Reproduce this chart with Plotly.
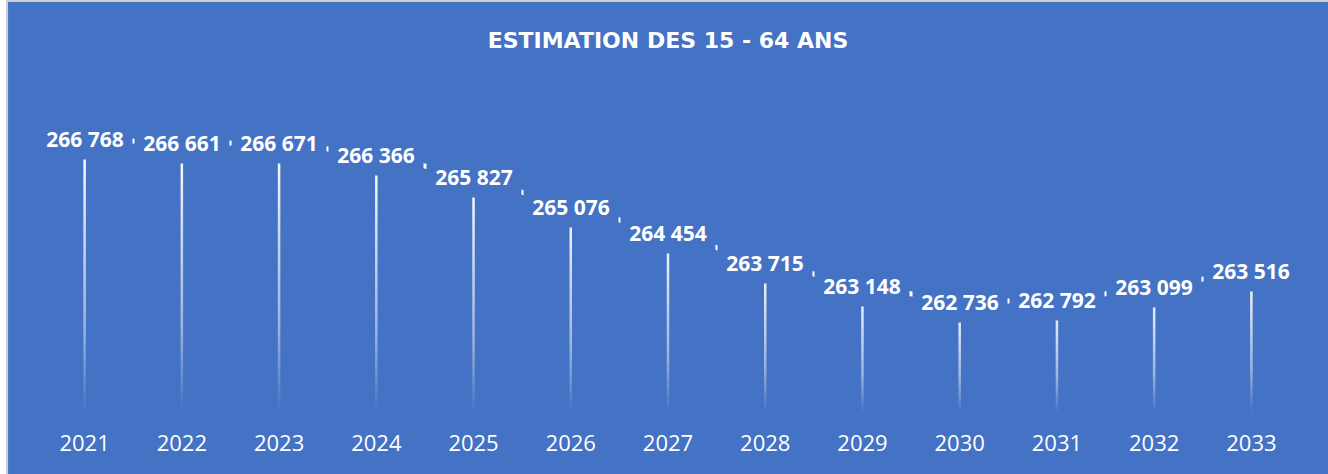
import plotly.graph_objects as go

# Données : estimation des 15 - 64 ans
annees = ["2021", "2022", "2023", "2024", "2025", "2026", "2027",
          "2028", "2029", "2030", "2031", "2032", "2033"]
effectifs = [266768, 266661, 266671, 266366, 265827, 265076, 264454,
             263715, 263148, 262736, 262792, 263099, 263516]

BLEU = "#4472C4"
Y_MIN, Y_MAX = 260000, 268000

xs = list(range(len(annees)))
etiquettes = [f"{v:,}".replace(",", " ") for v in effectifs]

fig = go.Figure()

# ligne épaisse reliant les points (visible seulement entre les étiquettes)
fig.add_trace(go.Scatter(
    x=xs, y=effectifs, mode="lines",
    line=dict(color="white", width=5),
    hoverinfo="skip", showlegend=False,
))

# tiges verticales en dégradé
w = 0.013
for x, v in zip(xs, effectifs):
    fig.add_trace(go.Scatter(
        x=[x - w, x + w, x + w, x - w, x - w],
        y=[Y_MIN, Y_MIN, v, v, Y_MIN],
        mode="lines", line=dict(width=0),
        fill="toself",
        fillgradient=dict(
            type="vertical",
            colorscale=[[0, "rgba(255,255,255,0)"],
                        [0.3, "rgba(255,255,255,0.45)"],
                        [1, "rgba(255,255,255,1)"]],
        ),
        hoverinfo="skip", showlegend=False,
    ))

# étiquettes de données, fond bleu pour masquer la ligne
for x, v, t in zip(xs, effectifs, etiquettes):
    fig.add_annotation(
        x=x, y=v, text=t, showarrow=False,
        font=dict(family="Open Sans", size=21, color="white", weight="bold"),
        bgcolor=BLEU, width=92, height=38,
        xanchor="center", yanchor="middle",
    )

fig.update_layout(
    width=1328, height=474,
    margin=dict(l=36, r=28, t=89, b=61),
    paper_bgcolor=BLEU, plot_bgcolor=BLEU,
    title=dict(
        text="<b>ESTIMATION DES 15 - 64 ANS</b>",
        x=0.503, xanchor="center", y=0.915, yanchor="middle",
        font=dict(family="DejaVu Sans", size=22, color="white"),
    ),
    xaxis=dict(
        range=[-0.5, len(annees) - 0.5],
        tickmode="array", tickvals=xs, ticktext=annees,
        showgrid=False, zeroline=False, showline=False,
        tickfont=dict(family="Open Sans", size=22, color="white"),
        ticklabelstandoff=15,
    ),
    yaxis=dict(
        range=[Y_MIN, Y_MAX], visible=False,
        showgrid=False, zeroline=False,
    ),
    showlegend=False,
)

# bordure grise de la zone de graphique (à gauche et en haut)
fig.add_shape(type="rect", xref="paper", yref="paper",
              x0=-0.03, x1=-0.0237, y0=-0.3, y1=1.3,
              fillcolor="white", line=dict(width=0), layer="above")
fig.add_shape(type="line", xref="paper", yref="paper",
              x0=-0.0229, x1=-0.0229, y0=-0.3, y1=1.27,
              line=dict(color="#D0D0D0", width=2), layer="above")
fig.add_shape(type="line", xref="paper", yref="paper",
              x0=-0.0237, x1=1.1, y0=1.2716, y1=1.2716,
              line=dict(color="#D0D0D0", width=2), layer="above")

fig.write_html(
    "out.html",
    config={"displayModeBar": False},
    post_script="document.body.style.margin='0';document.body.style.overflow='hidden';",
)
